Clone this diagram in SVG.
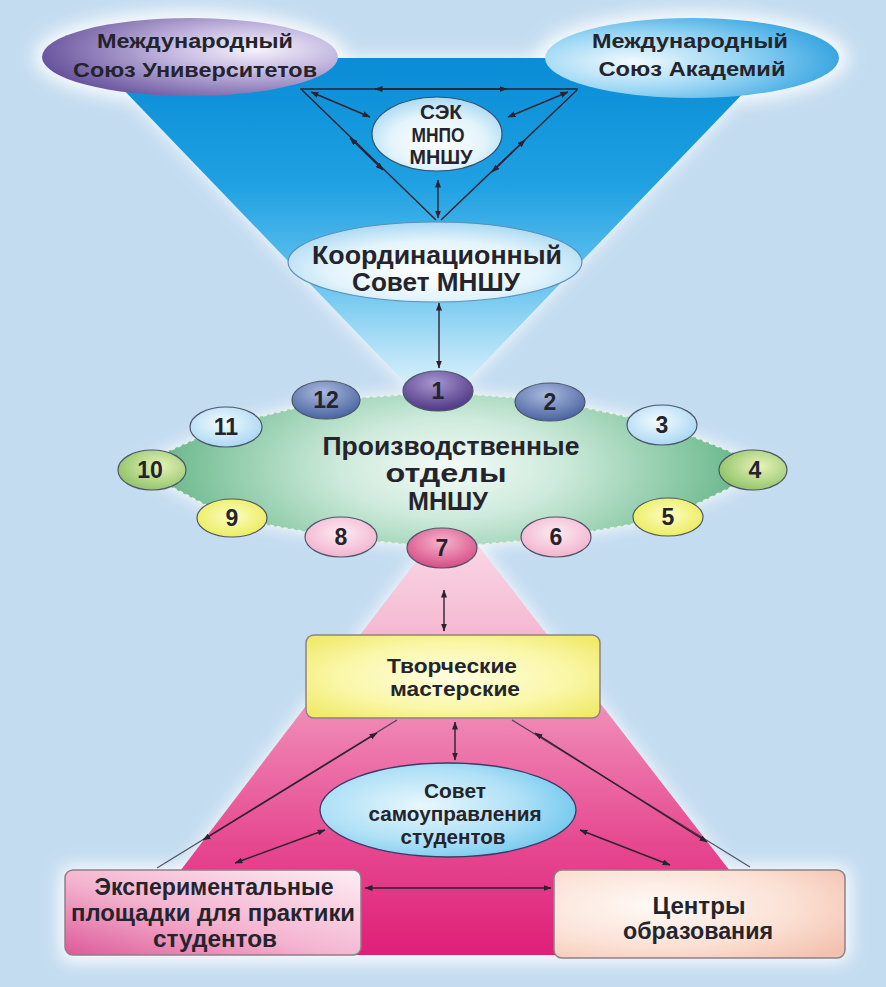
<svg xmlns="http://www.w3.org/2000/svg" width="886" height="987" viewBox="0 0 886 987">
<style>
text{font-family:"Liberation Sans",Arial,sans-serif;font-weight:bold;fill:#24242c;text-anchor:middle}
.t20{font-size:21px}.t22{font-size:23px}.t24{font-size:26px}.t19{font-size:20px}.tw{font-size:21px}
.num{font-size:23px}
.cn{fill:none;stroke:#2a2230;stroke-width:1.4}
.cnl{fill:none;stroke:#2a2230;stroke-width:1.2;opacity:.75}
.ar{fill:none;stroke:#2a2230;stroke-width:1.4;marker-start:url(#ah);marker-end:url(#ah)}
.badge{stroke:#4d5668;stroke-width:1.2}
.box{stroke:#8e8088;stroke-width:1.5}
</style>
<defs>
<marker id="ah" viewBox="0 0 8 6" refX="7.5" refY="3" markerWidth="8" markerHeight="6" markerUnits="userSpaceOnUse" orient="auto-start-reverse"><path d="M0,0 L8,3 L0,6 Z" fill="#2a2230"/></marker>
<filter id="glow" x="-30%" y="-30%" width="160%" height="160%"><feGaussianBlur stdDeviation="9"/></filter>
<linearGradient id="gBlue" x1="0" y1="58" x2="0" y2="414" gradientUnits="userSpaceOnUse">
<stop offset="0" stop-color="#0a8cd6"/><stop offset="0.35" stop-color="#1ea0e2"/><stop offset="0.62" stop-color="#62c2ee"/><stop offset="0.85" stop-color="#bfe6f8"/><stop offset="1" stop-color="#f0faff"/></linearGradient>
<linearGradient id="gPink" x1="0" y1="513" x2="0" y2="955" gradientUnits="userSpaceOnUse">
<stop offset="0" stop-color="#fbe0ec"/><stop offset="0.25" stop-color="#f5bcd4"/><stop offset="0.5" stop-color="#ee7fb0"/><stop offset="0.75" stop-color="#e64890"/><stop offset="1" stop-color="#df1f78"/></linearGradient>
<radialGradient id="gGreen" cx="450" cy="468" r="320" gradientUnits="userSpaceOnUse" gradientTransform="translate(450 468) scale(1 0.45) translate(-450 -468)">
<stop offset="0" stop-color="#f4fbf7"/><stop offset="0.35" stop-color="#cdeadb"/><stop offset="0.75" stop-color="#86c7a2"/><stop offset="1" stop-color="#5aac7e"/></radialGradient>
<radialGradient id="gPurple" cx="0.72" cy="0.4" r="0.75"><stop offset="0" stop-color="#f6f3fb"/><stop offset="0.4" stop-color="#c2b6df"/><stop offset="1" stop-color="#65509a"/></radialGradient>
<radialGradient id="gAcad" cx="0.3" cy="0.55" r="0.8"><stop offset="0" stop-color="#f2fafe"/><stop offset="0.45" stop-color="#9ad6f4"/><stop offset="1" stop-color="#1e98dc"/></radialGradient>
<radialGradient id="gLight" cx="0.5" cy="0.6" r="0.6"><stop offset="0" stop-color="#ffffff"/><stop offset="0.6" stop-color="#e4f4fc"/><stop offset="1" stop-color="#a9d9f2"/></radialGradient>
<radialGradient id="gSovet" cx="0.4" cy="0.45" r="0.65"><stop offset="0" stop-color="#e8f7fd"/><stop offset="0.6" stop-color="#aee0f6"/><stop offset="1" stop-color="#6cc6ee"/></radialGradient>
<radialGradient id="gYellow" cx="0.5" cy="0.5" r="0.65"><stop offset="0" stop-color="#fefee0"/><stop offset="0.6" stop-color="#faf7a8"/><stop offset="1" stop-color="#f0ea6a"/></radialGradient>
<linearGradient id="gExp" x1="0" y1="1" x2="1" y2="0"><stop offset="0" stop-color="#dd5a98"/><stop offset="0.45" stop-color="#f4b4d0"/><stop offset="1" stop-color="#fdeef4"/></linearGradient>
<radialGradient id="gCent" cx="0.35" cy="0.4" r="0.8"><stop offset="0" stop-color="#fffaf6"/><stop offset="0.6" stop-color="#fbe0d4"/><stop offset="1" stop-color="#f3c2ae"/></radialGradient>
<radialGradient id="b1" cx="0.45" cy="0.3" r="0.7"><stop offset="0" stop-color="#a796d0"/><stop offset="1" stop-color="#4f3785"/></radialGradient>
<radialGradient id="b2" cx="0.45" cy="0.3" r="0.7"><stop offset="0" stop-color="#aab9dd"/><stop offset="1" stop-color="#4a64a2"/></radialGradient>
<radialGradient id="b3" cx="0.45" cy="0.4" r="0.7"><stop offset="0" stop-color="#f4fbff"/><stop offset="1" stop-color="#9fd2f2"/></radialGradient>
<radialGradient id="b4" cx="0.6" cy="0.4" r="0.7"><stop offset="0" stop-color="#e6f3b8"/><stop offset="1" stop-color="#88bf62"/></radialGradient>
<radialGradient id="b5" cx="0.5" cy="0.45" r="0.7"><stop offset="0" stop-color="#fcfdc4"/><stop offset="1" stop-color="#e8e845"/></radialGradient>
<radialGradient id="b6" cx="0.5" cy="0.4" r="0.7"><stop offset="0" stop-color="#fdebf2"/><stop offset="1" stop-color="#f0aac8"/></radialGradient>
<radialGradient id="b7" cx="0.5" cy="0.35" r="0.7"><stop offset="0" stop-color="#f6b4cf"/><stop offset="1" stop-color="#d4447e"/></radialGradient>
</defs>

<rect x="0" y="0" width="886" height="987" fill="#c4dcf0"/>

<g id="glows" filter="url(#glow)" fill="#ffffff" opacity="0.95">
<polygon points="93,58 777,58 435,414"/>
<ellipse cx="190" cy="57" rx="156" ry="46"/>
<ellipse cx="692" cy="58" rx="156" ry="46"/>
<polygon points="133,467 226,425 326,400 438,392 550,400 662,424 772,468 668,518 556,538 442,548 341,538 232,519"/>
<polygon points="453,513 116,955 795,955"/>
<rect x="60" y="866" width="790" height="96" rx="10"/>
</g>

<g id="background-shapes">
<polygon points="93,58 777,58 435,414" fill="url(#gBlue)"/>
<polygon points="453,513 116,955 795,955" fill="url(#gPink)"/>
</g>

<g id="connectors">
<path class="cn" d="M300,89 L578,89"/>
<path class="ar" d="M375,89 L507,89"/>
<path class="ar" d="M370,117 L311,92"/>
<path class="ar" d="M508,117 L568,92"/>
<path class="cn" d="M302,90 L436,220"/>
<path class="ar" d="M383,170 L350,138"/>
<path class="cn" d="M577,90 L441,220"/>
<path class="ar" d="M492,172 L525,140"/>
<path class="ar" d="M438,218 L438,180"/>
<path class="ar" d="M439,303 L439,368"/>
<path class="ar" d="M444,590 L444,631"/>
<path class="ar" d="M455,722 L455,760"/>
<path class="cnl" d="M397,720 L157,868"/>
<path class="ar" d="M203,840 L377,733"/>
<path class="cnl" d="M512,720 L750,867"/>
<path class="ar" d="M707,842 L535,733"/>
<path class="ar" d="M325,830 L235,863"/>
<path class="ar" d="M580,830 L670,865"/>
<path class="ar" d="M365,888 L551,888"/>
</g>

<g id="node-union-universities">
<ellipse cx="190" cy="57" rx="148" ry="39" fill="url(#gPurple)"/>
<text class="t20" x="195" y="48" textLength="196" lengthAdjust="spacingAndGlyphs">Международный</text>
<text class="t20" x="195" y="77" textLength="244" lengthAdjust="spacingAndGlyphs">Союз Университетов</text>
</g>
<g id="node-union-academies">
<ellipse cx="692" cy="58" rx="147" ry="40" fill="url(#gAcad)"/>
<text class="t20" x="690" y="48" textLength="196" lengthAdjust="spacingAndGlyphs">Международный</text>
<text class="t20" x="692" y="76" textLength="187" lengthAdjust="spacingAndGlyphs">Союз Академий</text>
</g>
<g id="node-sek">
<ellipse cx="437" cy="134" rx="65" ry="37" fill="url(#gLight)" stroke="#33506e" stroke-width="1.2"/>
<text class="t20" x="441" y="119" textLength="42" lengthAdjust="spacingAndGlyphs">СЭК</text>
<text class="t20" x="438" y="142" textLength="53" lengthAdjust="spacingAndGlyphs">МНПО</text>
<text class="t20" x="441" y="164" textLength="63" lengthAdjust="spacingAndGlyphs">МНШУ</text>
</g>
<g id="node-coord">
<ellipse cx="435" cy="262" rx="147" ry="40" fill="url(#gLight)" stroke="#5d8fb8" stroke-width="1.2"/>
<text class="t24" x="437" y="264" textLength="250" lengthAdjust="spacingAndGlyphs">Координационный</text>
<text class="t24" x="436" y="291" textLength="168" lengthAdjust="spacingAndGlyphs">Совет МНШУ</text>
</g>

<g id="node-production">
<polygon points="133,467 226,425 326,400 438,392 550,400 662,424 772,468 668,518 556,538 442,548 341,538 232,519" fill="url(#gGreen)" stroke="#e6efe8" stroke-width="2" stroke-dasharray="4 3" stroke-linejoin="round"/>
<text class="t24" x="451" y="455" textLength="257" lengthAdjust="spacingAndGlyphs">Производственные</text>
<text class="t24" x="446" y="482" textLength="121" lengthAdjust="spacingAndGlyphs">отделы</text>
<text class="t24" x="448" y="510" textLength="80" lengthAdjust="spacingAndGlyphs">МНШУ</text>
</g>

<g id="badge-1"><ellipse class="badge" cx="438" cy="391" rx="35" ry="20" fill="url(#b1)"/><text class="num" x="438" y="399">1</text></g>
<g id="badge-2"><ellipse class="badge" cx="550" cy="402" rx="35" ry="19" fill="url(#b2)"/><text class="num" x="550" y="410">2</text></g>
<g id="badge-3"><ellipse class="badge" cx="662" cy="425" rx="35" ry="20" fill="url(#b3)"/><text class="num" x="662" y="433">3</text></g>
<g id="badge-4"><ellipse class="badge" cx="753" cy="470" rx="34" ry="20" fill="url(#b4)"/><text class="num" x="755" y="478">4</text></g>
<g id="badge-5"><ellipse class="badge" cx="668" cy="517" rx="35" ry="19" fill="url(#b5)"/><text class="num" x="668" y="525">5</text></g>
<g id="badge-6"><ellipse class="badge" cx="556" cy="537" rx="35" ry="20" fill="url(#b6)"/><text class="num" x="556" y="545">6</text></g>
<g id="badge-7"><ellipse class="badge" cx="442" cy="548" rx="35" ry="20" fill="url(#b7)"/><text class="num" x="442" y="556">7</text></g>
<g id="badge-8"><ellipse class="badge" cx="341" cy="537" rx="36" ry="20" fill="url(#b6)"/><text class="num" x="341" y="545">8</text></g>
<g id="badge-9"><ellipse class="badge" cx="232" cy="518" rx="35" ry="19" fill="url(#b5)"/><text class="num" x="232" y="526">9</text></g>
<g id="badge-10"><ellipse class="badge" cx="152" cy="470" rx="34" ry="20" fill="url(#b4)"/><text class="num" x="150" y="478">10</text></g>
<g id="badge-11"><ellipse class="badge" cx="226" cy="427" rx="36" ry="20" fill="url(#b3)"/><text class="num" x="226" y="435">11</text></g>
<g id="badge-12"><ellipse class="badge" cx="326" cy="400" rx="34" ry="19" fill="url(#b2)"/><text class="num" x="326" y="408">12</text></g>

<g id="node-workshops">
<rect class="box" x="306" y="635" width="294" height="83" rx="8" fill="url(#gYellow)"/>
<text class="tw" x="452" y="673" textLength="130" lengthAdjust="spacingAndGlyphs">Творческие</text>
<text class="tw" x="455" y="696" textLength="130" lengthAdjust="spacingAndGlyphs">мастерские</text>
</g>
<g id="node-student-council">
<ellipse cx="448" cy="810" rx="128" ry="47" fill="url(#gSovet)" stroke="#3a3a66" stroke-width="1.3"/>
<text class="t19" x="455" y="798" textLength="62" lengthAdjust="spacingAndGlyphs">Совет</text>
<text class="t19" x="455" y="821" textLength="173" lengthAdjust="spacingAndGlyphs">самоуправления</text>
<text class="t19" x="453" y="844" textLength="105" lengthAdjust="spacingAndGlyphs">студентов</text>
</g>
<g id="node-experimental">
<rect class="box" x="65" y="870" width="296" height="85" rx="8" fill="url(#gExp)"/>
<text class="t22" x="214" y="895" textLength="239" lengthAdjust="spacingAndGlyphs">Экспериментальные</text>
<text class="t22" x="213" y="921" textLength="284" lengthAdjust="spacingAndGlyphs">площадки для практики</text>
<text class="t22" x="215" y="947" textLength="124" lengthAdjust="spacingAndGlyphs">студентов</text>
</g>
<g id="node-education-centers">
<rect class="box" x="554" y="870" width="291" height="88" rx="8" fill="url(#gCent)"/>
<text class="t22" x="699" y="914" textLength="93" lengthAdjust="spacingAndGlyphs">Центры</text>
<text class="t22" x="698" y="939" textLength="150" lengthAdjust="spacingAndGlyphs">образования</text>
</g>
</svg>
